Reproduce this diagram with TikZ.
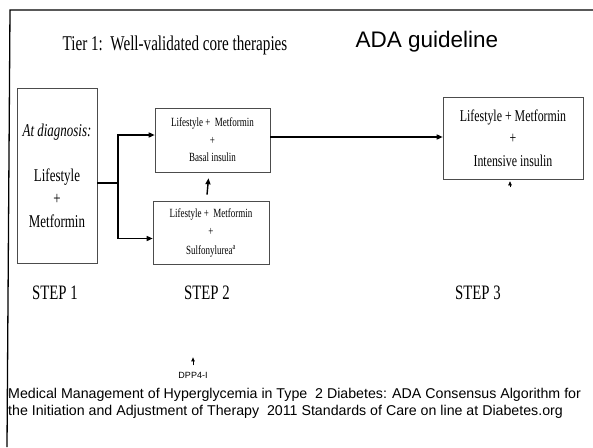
\documentclass[tikz,border=0pt]{standalone}
\usepackage{fontspec}
\setmainfont{Liberation Serif}
\newfontfamily\narrowserif[FakeStretch=0.72]{Liberation Serif}
\newfontfamily\arialfont{Liberation Sans}
\usetikzlibrary{arrows.meta}
\begin{document}
\begin{tikzpicture}[x=1pt, y=-1pt, >={Triangle[length=6pt,width=5pt]},
  box/.style={draw=black!70, line width=0.6pt, align=center, inner sep=0pt},
  link/.style={->, line width=1.4pt},
  steplabel/.style={font=\narrowserif\fontsize{20.5}{24}\selectfont}]
\useasboundingbox (0,0) rectangle (593,447);
\draw[line width=1.3pt] (593,10) -- (10,10) -- (7,447);
% headings
\node[font=\narrowserif\fontsize{21}{24}\selectfont] (tier) at (175,45) {Tier 1:\ \ Well-validated core therapies};
\node[font=\arialfont\fontsize{22.5}{26}\selectfont] (ada) at (427,42) {ADA guideline};
% boxes
\node[box, minimum width=80pt, minimum height=175pt, font=\narrowserif\fontsize{18}{23}\selectfont] (diag) at (57,175.5)
  {\itshape At diagnosis:\\[22pt] Lifestyle\\ +\\ Metformin};
\node[box, minimum width=115pt, minimum height=64pt, font=\narrowserif\fontsize{12.5}{17.5}\selectfont] (basal) at (212.5,140)
  {Lifestyle + \ Metformin\\ +\\ Basal insulin};
\node[box, minimum width=116pt, minimum height=63pt, font=\narrowserif\fontsize{12.5}{18.5}\selectfont] (sulf) at (211,232.5)
  {Lifestyle + \ Metformin\\ +\\ Sulfonylurea\textsuperscript{a}};
\node[box, minimum width=140pt, minimum height=82pt, font=\narrowserif\fontsize{16.5}{22.5}\selectfont] (intens) at (513,138)
  {Lifestyle + Metformin\\ +\\ Intensive insulin};
% step labels
\node[steplabel] (step1) at (55,293) {STEP 1};
\node[steplabel] (step2) at (207,293) {STEP 2};
\node[steplabel] (step3) at (478,293) {STEP 3};
% connectors
\coordinate (split) at (118,183);
\draw[line width=1.4pt] (diag.east |- split) -- (split);
\draw[link] (split) |- ([yshift=5pt]basal.west);
\draw[link] (split) |- ([yshift=-6pt]sulf.west);
\draw[link] ([yshift=3pt]basal.east) -- ([yshift=3pt]basal.east -| intens.west);
\draw[link] ([xshift=-4pt,yshift=6pt]sulf.north) -- ([xshift=-4pt,yshift=-6pt]basal.south);
\draw[->, line width=0.6pt, >={Triangle[length=4pt,width=3.5pt]}] ([xshift=-3pt,yshift=-8pt]intens.south) -- ([xshift=-3pt,yshift=-2pt]intens.south);
% footer
\node[font=\arialfont\fontsize{9}{11}\selectfont] (dpp) at (193,375) {DPP4-I};
\draw[->, line width=0.8pt, >={Triangle[length=4pt,width=3.5pt]}] ([yshift=3pt]dpp.north) -- ++(0,-8);
\node[font=\arialfont\fontsize{14.2}{17}\selectfont, anchor=north west, align=left, inner sep=0pt] (caption) at (8,388)
  {Medical Management of Hyperglycemia in Type\ \ 2 Diabetes: ADA Consensus Algorithm for\\
   the Initiation and Adjustment of Therapy\ \ 2011 Standards of Care on line at Diabetes.org};
\end{tikzpicture}
\end{document}
